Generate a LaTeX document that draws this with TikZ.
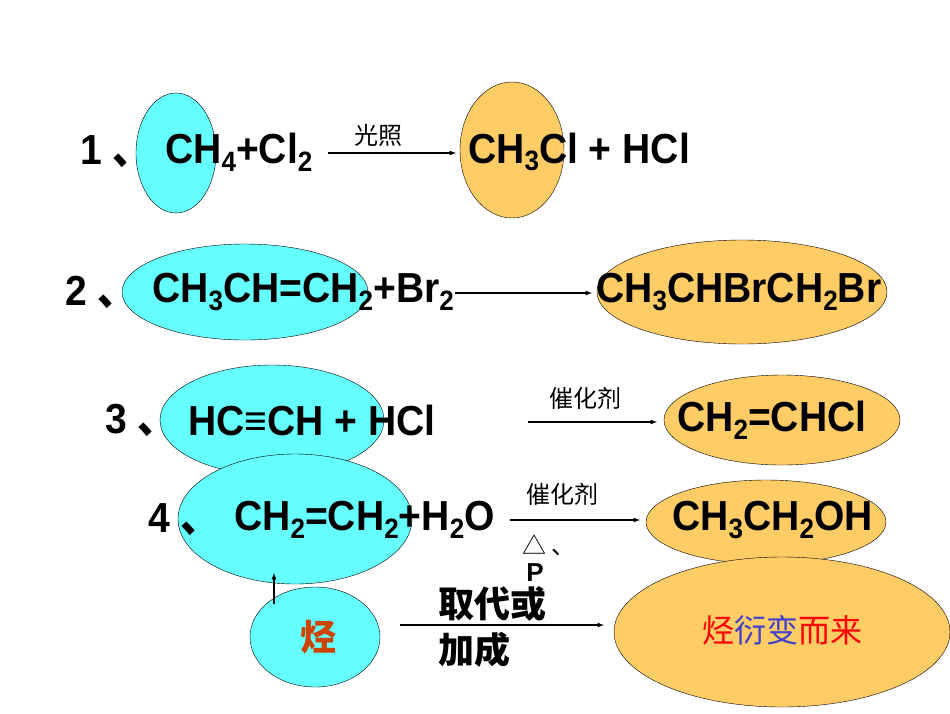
\documentclass[tikz,border=0pt]{standalone}
\usepackage{fontspec}
\usepackage{graphicx}
\setmainfont{Liberation Sans}
\newfontfamily\cjk{Noto Sans CJK SC}
\newcommand\sbs[1]{\raisebox{-0.35ex}{\fontsize{28}{28}\selectfont #1}}
\newcommand\bt[1]{\scalebox{0.93}[1]{\bfseries #1}}
\begin{document}
\begin{tikzpicture}[x=1pt,y=-1pt,
  cyan/.style={draw=black,fill={rgb,255:red,102;green,255;blue,255}},
  org/.style={draw=black,fill={rgb,255:red,255;green,204;blue,102}},
  big/.style={font=\fontsize{42}{42}\selectfont, inner sep=0pt},
  lab/.style={font=\cjk\fontsize{24}{24}\selectfont, inner sep=0pt},
  arr/.style={-latex, line width=1.2pt}]
\useasboundingbox (0,0) rectangle (950,713);
% ellipses
\draw[cyan] (176,153) ellipse [x radius=40,y radius=60];
\draw[org] (512,150) ellipse [x radius=52,y radius=68];
\draw[cyan] (245,292) ellipse [x radius=123,y radius=48];
\draw[org] (742,292) ellipse [x radius=145,y radius=52];
\draw[cyan] (272,420) ellipse [x radius=112,y radius=55];
\draw[org] (782,420) ellipse [x radius=118,y radius=45];
\draw[cyan] (295,519) ellipse [x radius=117,y radius=65];
\draw[org] (766,522) ellipse [x radius=120,y radius=42];
\draw[cyan] (315,637) ellipse [x radius=65,y radius=50];
\draw[org] (782,632) ellipse [x radius=168,y radius=75];
% row 1
\node[big,anchor=west] (n1) at (80,152) {\bt{1 {\cjk 、}}};
\node[big,anchor=west] (r1) at (165,152) {\bt{CH\sbs4+Cl\sbs2}};
\node[big,anchor=west] (p1) at (468,152) {\bt{CH\sbs3Cl + HCl}};
\coordinate (a1s) at (328,153); \coordinate (a1e) at (456,153);
\draw[arr] (a1s) -- (a1e);
\node[lab] (l1) at (378,135) {光照};
% row 2
\node[big,anchor=west] (n2) at (65,292) {\bt{2 {\cjk 、}}};
\node[big,anchor=west] (r2) at (152,292) {\bt{CH\sbs3CH=CH\sbs2+Br\sbs2}};
\node[big,anchor=west] (p2) at (596,292) {\bt{CH\sbs3CHBrCH\sbs2Br}};
\coordinate (a2s) at (455,293); \coordinate (a2e) at (592,293);
\draw[arr] (a2s) -- (a2e);
% row 3
\node[big,anchor=west] (n3) at (105,420) {\bt{3 {\cjk 、}}};
\node[big,anchor=west] (r3) at (188,420) {\bt{HC≡CH + HCl}};
\node[big,anchor=west] (p3) at (677,420) {\bt{CH\sbs2=CHCl}};
\coordinate (a3s) at (528,422); \coordinate (a3e) at (657,422);
\draw[arr] (a3s) -- (a3e);
\node[lab] (l3) at (585,398) {催化剂};
% row 4
\node[big,anchor=west] (n4) at (148,520) {\bt{4 {\cjk 、}}};
\node[big,anchor=west] (r4) at (234,520) {\bt{CH\sbs2=CH\sbs2+H\sbs2O}};
\node[big,anchor=west] (p4) at (672,520) {\bt{CH\sbs3CH\sbs2OH}};
\coordinate (a4s) at (510,520); \coordinate (a4e) at (640,520);
\draw[arr] (a4s) -- (a4e);
\node[lab] (l4) at (562,494) {催化剂};
\node[lab,anchor=west] (l4b) at (522,545) {△ 、};
\node[font=\fontsize{26}{26}\selectfont\bfseries,inner sep=0pt] (l4c) at (535,573) {P};
% row 5
\node[font=\cjk\bfseries\fontsize{36}{36}\selectfont,text={rgb,255:red,204;green,68;blue,0}] (h) at (318,637) {烃};
\node[font=\cjk\fontsize{32}{32}\selectfont] (d) at (782,630) {\textcolor{red}{烃}\textcolor[rgb]{0.25,0.25,0.8}{衍变}\textcolor{red}{而来}};
\coordinate (a5s) at (400,625); \coordinate (a5e) at (604,625);
\draw[arr] (a5s) -- (a5e);
\node[font=\cjk\bfseries\fontsize{36}{36}\selectfont,inner sep=0pt,anchor=west] (l5a) at (438,604) {取代或};
\node[font=\cjk\bfseries\fontsize{36}{36}\selectfont,inner sep=0pt,anchor=west] (l5b) at (438,650) {加成};
\coordinate (up1) at (274,604); \coordinate (up2) at (274,573);
\draw[arr] (up1) -- (up2);
\end{tikzpicture}
\end{document}
